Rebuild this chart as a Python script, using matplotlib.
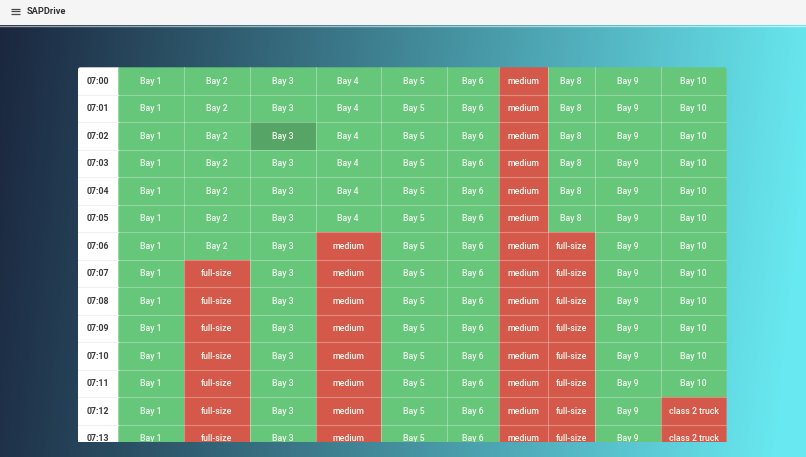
import numpy as np
import matplotlib
matplotlib.use('Agg')
import matplotlib.pyplot as plt
from matplotlib.patches import FancyBboxPatch, Rectangle

plt.rcParams['font.family'] = ['Roboto', 'DejaVu Sans']

W, H = 806, 457

##############################################################################
# data
times = ['07:00', '07:01', '07:02', '07:03', '07:04', '07:05', '07:06',
         '07:07', '07:08', '07:09', '07:10', '07:11', '07:12', '07:13']
bays = ['Bay 1', 'Bay 2', 'Bay 3', 'Bay 4', 'Bay 5', 'Bay 6', 'Bay 7',
        'Bay 8', 'Bay 9', 'Bay 10']
# first row each bay is taken at, and by what (None = free the whole time)
taken_from = [None, 7, None, 6, None, None, 0, 6, None, 12]
taken_by = [None, 'full-size', None, 'medium', None, None, 'medium',
            'full-size', None, 'class 2 truck']
hover_cell = (2, 2)

##############################################################################
# layout
time_w = 40
col_w = [66, 66, 66, 65, 66, 52, 49, 47, 66, 66]
row_h = 27.5
tbl_left, tbl_top = 77.6, 67.3
tbl_bottom = 442.3

green = '#66c77a'
green_dark = '#57a566'
red = '#d5594a'
cell_txt = '#f2faf2'
fs = 6.3

fig = plt.figure(figsize=(W / 100., H / 100.), dpi=100)

# page background
bg = fig.add_axes([0, 0, 1, 1])
xx, yy = np.meshgrid(np.linspace(0, 1, W), np.linspace(0, 1, H))
t = np.clip((xx + 0.06 * yy) / 1.02, 0, 1)
c0 = np.array([0x1a, 0x26, 0x3e]) / 255.
c1 = np.array([0x68, 0xe8, 0xf0]) / 255.
grad = c0[None, None, :] + (c1 - c0)[None, None, :] * t[:, :, None]
bg.imshow(grad, extent=(0, W, H, 0), aspect='auto', interpolation='bilinear')
bg.set_xlim(0, W)
bg.set_ylim(H, 0)
bg.axis('off')

# top bar
bg.add_patch(Rectangle((0, 0), W, 25, fc='#f5f5f5', ec='none', zorder=3))
bg.plot([0, W], [25.5, 25.5], color='white', alpha=0.55, lw=1, zorder=3)
for y in (8.8, 11.3, 13.8):
    bg.plot([11, 19.5], [y, y], color='#4a4a4a', lw=0.9, zorder=4,
            solid_capstyle='butt')
bg.text(26.2, 11.1, 'SAPDrive', color='#333333', fontsize=6.7, weight='bold',
        va='center', ha='left', zorder=4)

# table
tbl_w = time_w + sum(col_w)
ax = fig.add_axes([tbl_left / W, 1 - tbl_bottom / H, tbl_w / W,
                   (tbl_bottom - tbl_top) / H])
ax.set_xlim(0, tbl_w)
ax.set_ylim((tbl_bottom - tbl_top) / row_h, 0)
ax.axis('off')

clip = FancyBboxPatch((tbl_left + 3, tbl_top + 3), tbl_w - 6, H,
                      boxstyle='round,pad=3', transform=bg.transData,
                      fc='none', ec='none')
bg.add_patch(clip)
bottom_clip = Rectangle((tbl_left, tbl_top), tbl_w, tbl_bottom - tbl_top,
                        transform=bg.transData, fc='none', ec='none')
bg.add_patch(bottom_clip)

edges = np.concatenate([[time_w], time_w + np.cumsum(col_w)])

for r, tm in enumerate(times):
    p = ax.add_patch(Rectangle((0, r), time_w, 1, fc='white', ec='none'))
    p.set_clip_path(clip)
    txt = ax.text(time_w / 2., r + 0.5, tm, ha='center', va='center',
                  color='#3a3a3a', fontsize=fs, weight='bold')
    txt.set_clip_on(True)
    txt.set_clip_path(bottom_clip)

    for c, bay in enumerate(bays):
        is_taken = taken_from[c] is not None and r >= taken_from[c]
        color = red if is_taken else green
        if (r, c) == hover_cell:
            color = green_dark
        label = taken_by[c] if is_taken else bay
        p = ax.add_patch(Rectangle((edges[c], r), col_w[c], 1, fc=color,
                                   ec='none'))
        p.set_clip_path(clip)
        txt = ax.text(edges[c] + col_w[c] / 2., r + 0.5, label, ha='center',
                      va='center', color=cell_txt, fontsize=fs, weight='medium')
        txt.set_clip_on(True)
        txt.set_clip_path(bottom_clip)

# cell borders
for e in edges[:-1]:
    ax.plot([e, e], [0, len(times)], color='white', alpha=0.3, lw=0.8, zorder=3)
for r in range(1, len(times)):
    ax.plot([time_w, tbl_w], [r, r], color='white', alpha=0.3, lw=0.8, zorder=3)
    ax.plot([0, time_w], [r, r], color='#f0f0f0', lw=0.8, zorder=3)

fig.savefig('out.png', dpi=100)
